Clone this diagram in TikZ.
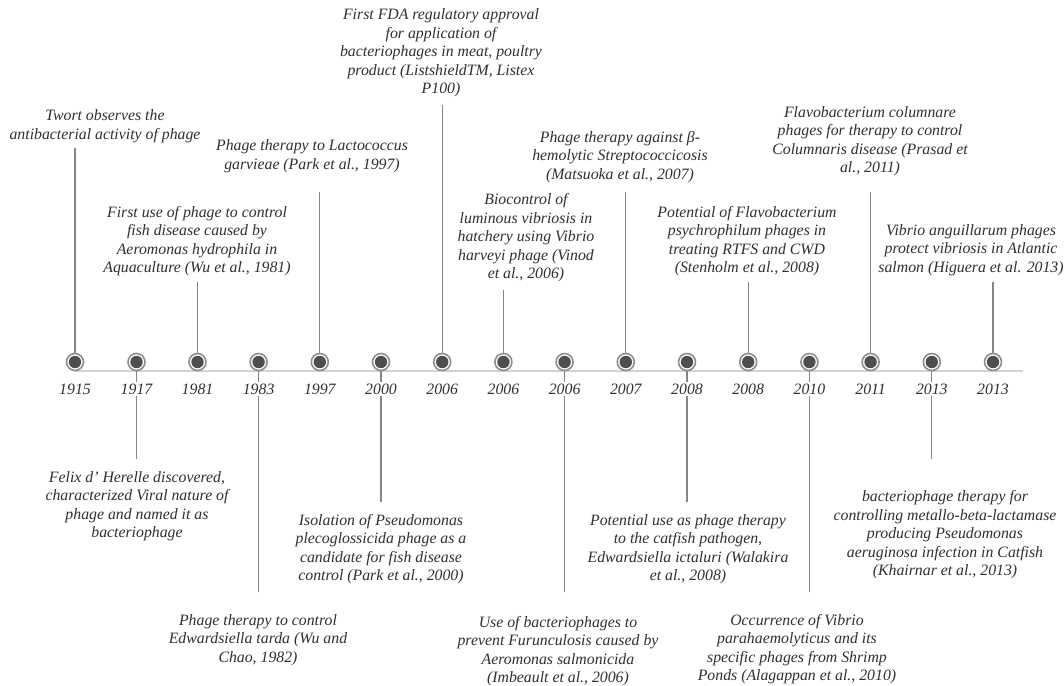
\documentclass[tikz,border=0pt]{standalone}
\usepackage{fontspec}
\setmainfont{Liberation Serif}
\definecolor{txtc}{HTML}{303030}
\definecolor{connc}{HTML}{858585}
\definecolor{axisc}{HTML}{D2D2D2}
\definecolor{ringc}{HTML}{8E8E8E}
\definecolor{diskc}{HTML}{4E4E4E}
\tikzset{
  txt/.style={font=\fontsize{15.8}{18.5}\selectfont\itshape, align=center, inner sep=0pt, text=txtc},
  year/.style={font=\fontsize{15.8}{18.5}\selectfont\itshape, inner sep=1.5pt, fill=white, text=txtc},
  conn/.style={draw=connc, line width=1.1pt},
  axisline/.style={draw=axisc, line width=2pt},
  marker/.style={circle, minimum size=17pt, inner sep=0pt, draw=ringc, line width=1.6pt, fill=white,
    path picture={\fill[diskc] (path picture bounding box.center) circle (6.2pt);}}
}
\begin{document}
\begin{tikzpicture}[x=1pt,y=-1pt]
\useasboundingbox (0,0) rectangle (1064,685);
\fill[white] (0,0) rectangle (1064,685);

% axis
\coordinate (axstart) at (75,371);
\coordinate (axend) at (1023,371);
\draw[axisline] (axstart) -- (axend);

% marker positions
\foreach \i/\x in {1/75,2/136.5,3/197.5,4/258.6,5/319.8,6/381,7/442.2,8/503.4,9/564.6,10/625.8,11/687,12/748.2,13/809.4,14/870.6,15/931.8,16/993}
  \coordinate (p\i) at (\x,362);

% connector end points
\coordinate (c1) at (75,148);
\coordinate (c2) at (136.5,459);
\coordinate (c3) at (197.5,282);
\coordinate (c4) at (258.6,592);
\coordinate (c5) at (319.8,192);
\coordinate (c6) at (381,502);
\coordinate (c7) at (442.2,105);
\coordinate (c8) at (503.4,290);
\coordinate (c9) at (564.6,592);
\coordinate (c10) at (625.8,192);
\coordinate (c11) at (687,502);
\coordinate (c12) at (748.2,282);
\coordinate (c13) at (809.4,592);
\coordinate (c14) at (870.6,192);
\coordinate (c15) at (931.8,459);
\coordinate (c16) at (993,282);

% connectors
\foreach \i in {1,...,16}
  \draw[conn] (c\i) -- (p\i);

% markers
\foreach \i in {1,...,16}
  \node[marker] (m\i) at (p\i) {};

% year labels
\foreach \i/\x/\yr in {1/75/1915,2/136.5/1917,3/197.5/1981,4/258.6/1983,5/319.8/1997,6/381/2000,7/442.2/2006,8/503.4/2006,9/564.6/2006,10/625.8/2007,11/687/2008,12/748.2/2008,13/809.4/2010,14/870.6/2011,15/931.8/2013,16/993/2013}
  \node[year] (y\i) at (\x,389) {\yr};

% event texts
\node[txt] (e1) at (105,126) {Twort observes the\\antibacterial activity of phage};
\node[txt] (e2) at (137,506) {Felix d' Herelle discovered,\\characterized Viral nature of\\phage and named it as\\bacteriophage};
\node[txt] (e3) at (197,241) {First use of phage to control\\fish disease caused by\\Aeromonas hydrophila in\\Aquaculture (Wu et al., 1981)};
\node[txt] (e4) at (258,640) {Phage therapy to control\\Edwardsiella tarda (Wu and\\Chao, 1982)};
\node[txt] (e5) at (312,156) {Phage therapy to Lactococcus\\garvieae (Park et al., 1997)};
\node[txt] (e6) at (381,549) {Isolation of Pseudomonas\\plecoglossicida phage as a\\candidate for fish disease\\control (Park et al., 2000)};
\node[txt] (e7) at (441,53) {First FDA regulatory approval\\for application of\\bacteriophages in meat, poultry\\product (ListshieldTM, Listex\\P100)};
\node[txt] (e8) at (526,238) {Biocontrol of\\luminous vibriosis in\\hatchery using Vibrio\\harveyi phage (Vinod\\et al., 2006)};
\node[txt] (e9) at (558,651) {Use of bacteriophages to\\prevent Furunculosis caused by\\Aeromonas salmonicida\\(Imbeault et al., 2006)};
\node[txt] (e10) at (620,157) {Phage therapy against β-\\hemolytic Streptococcicosis\\(Matsuoka et al., 2007)};
\node[txt] (e11) at (688,549) {Potential use as phage therapy\\to the catfish pathogen,\\Edwardsiella ictaluri (Walakira\\et al., 2008)};
\node[txt] (e12) at (747,241) {Potential of Flavobacterium\\psychrophilum phages in\\treating RTFS and CWD\\(Stenholm et al., 2008)};
\node[txt] (e13) at (797,649) {Occurrence of Vibrio\\parahaemolyticus and its\\specific phages from Shrimp\\Ponds (Alagappan et al., 2010)};
\node[txt] (e14) at (870,141) {Flavobacterium columnare\\phages for therapy to control\\Columnaris disease (Prasad et\\al., 2011)};
\node[txt] (e15) at (945,535) {bacteriophage therapy for\\controlling metallo-beta-lactamase\\producing Pseudomonas\\aeruginosa infection in Catfish\\(Khairnar et al., 2013)};
\node[txt] (e16) at (971,250) {Vibrio anguillarum phages\\protect vibriosis in Atlantic\\salmon (Higuera et al. 2013)};
\end{tikzpicture}
\end{document}
